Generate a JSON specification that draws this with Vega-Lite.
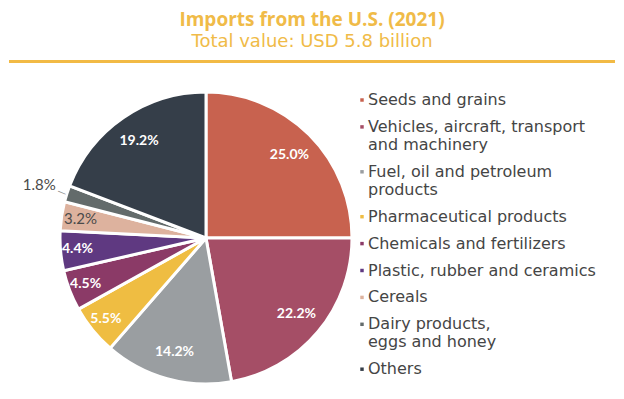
{
  "$schema": "https://vega.github.io/schema/vega-lite/v6.json",
  "padding": {"left": 9, "right": 9, "top": 11, "bottom": 0},
  "background": "white",
  "config": {"view": {"stroke": null}, "font": "DejaVu Sans", "concat": {"spacing": 23}},
  "data": {"values": [
    {"rank": 1, "category": "Seeds and grains", "share": 0.250},
    {"rank": 2, "category": "Vehicles, aircraft, transport and machinery", "share": 0.222},
    {"rank": 3, "category": "Fuel, oil and petroleum products", "share": 0.142},
    {"rank": 4, "category": "Pharmaceutical products", "share": 0.055},
    {"rank": 5, "category": "Chemicals and fertilizers", "share": 0.045},
    {"rank": 6, "category": "Plastic, rubber and ceramics", "share": 0.044},
    {"rank": 7, "category": "Cereals", "share": 0.032},
    {"rank": 8, "category": "Dairy products, eggs and honey", "share": 0.018},
    {"rank": 9, "category": "Others", "share": 0.192}
  ]},
  "vconcat": [
    {
      "title": {
        "text": "Imports from the U.S. (2021)",
        "subtitle": "Total value: USD 5.8 billion",
        "color": "#F0BB48",
        "subtitleColor": "#F0BB48",
        "font": "Open Sans",
        "fontSize": 19,
        "subtitleFont": "DejaVu Sans",
        "subtitleFontSize": 18,
        "fontWeight": "bold",
        "subtitleFontWeight": "normal",
        "anchor": "middle",
        "offset": 9,
        "subtitlePadding": 3
      },
      "width": 606,
      "height": 3,
      "view": {"fill": "#F2BA45", "stroke": null},
      "mark": {"type": "rect", "opacity": 0},
      "encoding": {}
    },
    {
      "width": 394,
      "height": 292,
      "encoding": {
        "theta": {"field": "share", "type": "quantitative", "stack": true},
        "order": {"field": "rank", "type": "quantitative"}
      },
      "layer": [
        {
          "mark": {"type": "arc", "outerRadius": 146, "stroke": "white", "strokeWidth": 3},
          "encoding": {
            "color": {
              "field": "category",
              "type": "nominal",
              "scale": {
                "domain": ["Seeds and grains", "Vehicles, aircraft, transport and machinery", "Fuel, oil and petroleum products", "Pharmaceutical products", "Chemicals and fertilizers", "Plastic, rubber and ceramics", "Cereals", "Dairy products, eggs and honey", "Others"],
                "range": ["#C8624F", "#A54E66", "#9A9EA1", "#EFBD42", "#8B3A67", "#5F3981", "#DDB29E", "#636B6B", "#353E49"]
              },
              "legend": {
                "title": null,
                "orient": "none",
                "legendX": 345,
                "legendY": 32,
                "padding": 0,
                "symbolType": "square",
                "symbolSize": 12,
                "symbolStrokeWidth": 0,
                "labelFontSize": 16,
                "labelColor": "#454545",
                "labelOffset": -2,
                "labelLimit": 300,
                "rowPadding": 10.9,
                "labelExpr": "datum.label == 'Vehicles, aircraft, transport and machinery' ? ['Vehicles, aircraft, transport', 'and machinery'] : datum.label == 'Fuel, oil and petroleum products' ? ['Fuel, oil and petroleum', 'products'] : datum.label == 'Dairy products, eggs and honey' ? ['Dairy products,', 'eggs and honey'] : datum.label"
              }
            }
          }
        },
        {
          "mark": {"type": "text", "radius": 118, "color": "white", "fontWeight": "bold", "fontSize": 14, "font": "Lato"},
          "encoding": {
            "text": {"condition": {"test": "datum.share >= 0.1", "field": "share", "format": ".1%"}, "value": ""}
          }
        },
        {
          "mark": {"type": "text", "radius": 129, "color": "white", "fontWeight": "bold", "fontSize": 14, "font": "Lato"},
          "encoding": {
            "text": {"condition": {"test": "datum.share >= 0.04 && datum.share < 0.1", "field": "share", "format": ".1%"}, "value": ""}
          }
        },
        {
          "mark": {"type": "text", "radius": 127, "color": "#4A4A4A", "fontSize": 15, "font": "Lato"},
          "encoding": {
            "text": {"condition": {"test": "datum.share >= 0.03 && datum.share < 0.04", "field": "share", "format": ".1%"}, "value": ""}
          }
        },
        {
          "mark": {"type": "text", "radius": 175, "color": "#4A4A4A", "fontSize": 15, "font": "Lato"},
          "encoding": {
            "text": {"condition": {"test": "datum.share < 0.03", "field": "share", "format": ".1%"}, "value": ""}
          }
        },
        {
          "mark": {"type": "text", "radius": 151, "color": "#8A8A8A", "fontSize": 9, "angle": 22},
          "encoding": {
            "text": {"condition": {"test": "datum.share < 0.03", "value": "—"}, "value": ""}
          }
        }
      ]
    }
  ]
}
